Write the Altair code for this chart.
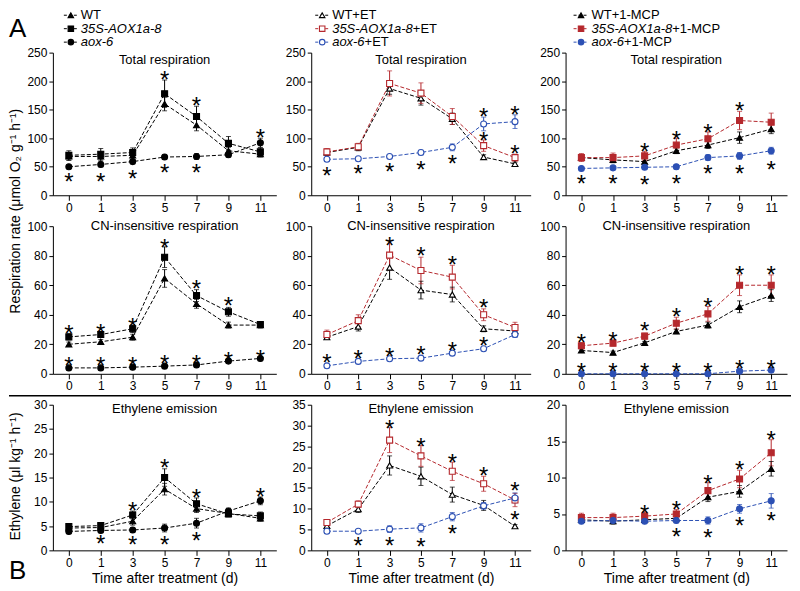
import altair as alt
import pandas as pd

FONT = "Liberation Sans, Arial, Helvetica, sans-serif"
BLACK = "#000000"
RED = "#b5282d"
BLUE = "#2c50b4"

DAYS = [0, 1, 3, 5, 7, 9, 11]

# ---------------- Total respiration (umol O2 g-1 h-1) ----------------
TOT_C_WT = [68, 68, 70, 160, 123, 78, 72]
TOT_C_WT_SE = [7, 8, 7, 12, 10, 6, 5]
TOT_C_OE = [70, 72, 75, 178, 138, 91, 76]
TOT_C_OE_SE = [8, 10, 8, 24, 18, 12, 7]
TOT_C_AOX = [50, 54, 59, 67, 68, 71, 92]
TOT_C_AOX_SE = [3, 4, 4, 4, 5, 4, 8]

TOT_ET_WT = [75, 84, 187, 170, 134, 67, 55]
TOT_ET_WT_SE = [5, 6, 10, 12, 10, 4, 3]
TOT_ET_OE = [76, 85, 196, 179, 138, 87, 66]
TOT_ET_OE_SE = [6, 6, 22, 18, 14, 10, 6]
TOT_ET_AOX = [63, 64, 68, 75, 84, 125, 129]
TOT_ET_AOX_SE = [3, 3, 3, 4, 6, 12, 12]

TOT_MCP_WT = [66, 62, 59, 78, 88, 101, 116]
TOT_MCP_WT_SE = [5, 5, 5, 5, 6, 10, 8]
TOT_MCP_OE = [66, 66, 69, 88, 99, 131, 128]
TOT_MCP_OE_SE = [7, 8, 8, 12, 12, 16, 16]
TOT_MCP_AOX = [47, 48, 49, 50, 66, 69, 78]
TOT_MCP_AOX_SE = [3, 3, 3, 4, 5, 6, 6]

# ---------------- CN-insensitive respiration ----------------
CN_C_WT = [20, 21.7, 24.8, 64.6, 47.4, 33, 33]
CN_C_WT_SE = [1.5, 1.5, 2, 6, 3, 2, 2]
CN_C_OE = [25, 26.6, 30.5, 79, 53, 42, 33.4]
CN_C_OE_SE = [2, 2, 2.5, 7, 4, 3, 2]
CN_C_AOX = [4, 4, 4.5, 5.2, 6, 8.6, 10.4]
CN_C_AOX_SE = [0.5, 0.5, 0.5, 0.5, 0.6, 0.8, 1]

CN_ET_WT = [24.8, 32, 72, 56.7, 53.7, 30.5, 29]
CN_ET_WT_SE = [1.5, 3, 8, 6, 5, 2, 2]
CN_ET_OE = [26.6, 36, 80.4, 70, 65.5, 40, 31.4]
CN_ET_OE_SE = [3, 4, 10, 9, 8, 4, 3.5]
CN_ET_AOX = [5.4, 8.4, 10.2, 10.6, 14, 17, 26.6]
CN_ET_AOX_SE = [0.5, 0.8, 0.8, 0.8, 1, 1, 2]

CN_MCP_WT = [15.8, 14.4, 21, 28.7, 33, 45.4, 53]
CN_MCP_WT_SE = [1, 1, 1, 1.5, 2, 4, 4]
CN_MCP_OE = [19, 20.8, 25.5, 34.3, 40.6, 60, 60]
CN_MCP_OE_SE = [2, 2, 2, 4, 5, 7, 7]
CN_MCP_AOX = [0, 0, 0, 0, 0, 1.8, 2.5]
CN_MCP_AOX_SE = [0.2, 0.2, 0.2, 0.2, 0.2, 0.4, 0.6]

# ---------------- Ethylene emission (ul kg-1 h-1) ----------------
ETH_C_WT = [4.6, 4.7, 6.0, 12.6, 8.6, 7.6, 6.6]
ETH_C_WT_SE = [0.5, 0.5, 0.8, 1.2, 0.8, 0.6, 0.6]
ETH_C_OE = [4.9, 5.1, 7.3, 15.0, 9.6, 7.5, 7.1]
ETH_C_OE_SE = [0.5, 0.5, 0.8, 1.8, 1.2, 0.6, 0.8]
ETH_C_AOX = [3.9, 4.1, 4.2, 4.6, 5.6, 8.1, 10.2]
ETH_C_AOX_SE = [0.4, 0.4, 0.5, 0.8, 1.0, 0.6, 0.8]

ETH_ET_WT = [5.9, 9.9, 20.4, 17.8, 13.4, 10.8, 5.8]
ETH_ET_WT_SE = [0.5, 0.8, 2.3, 2.2, 1.8, 1.2, 0.4]
ETH_ET_OE = [6.7, 11.1, 26.5, 22.7, 19.0, 16.0, 12.1]
ETH_ET_OE_SE = [0.6, 0.8, 3.0, 2.5, 2.2, 1.8, 1.6]
ETH_ET_AOX = [4.6, 4.6, 5.1, 5.4, 8.1, 10.7, 12.6]
ETH_ET_AOX_SE = [0.4, 0.4, 0.8, 1.0, 1.0, 0.8, 1.2]

ETH_MCP_WT = [4.2, 4.0, 4.2, 4.4, 7.3, 8.1, 11.2]
ETH_MCP_WT_SE = [0.4, 0.4, 0.4, 0.4, 0.6, 0.8, 1.0]
ETH_MCP_OE = [4.5, 4.5, 4.7, 5.0, 8.2, 9.8, 13.4]
ETH_MCP_OE_SE = [0.6, 0.6, 0.6, 0.6, 1.1, 1.2, 1.8]
ETH_MCP_AOX = [4.0, 4.1, 4.0, 4.1, 4.1, 5.7, 6.8]
ETH_MCP_AOX_SE = [0.3, 0.3, 0.3, 0.3, 0.5, 0.6, 1.0]

# ---------------- significance asterisks (day, value) ----------------
STAR_TOT_C_DAY = [0, 1, 3, 5, 5, 7, 7, 11]
STAR_TOT_C_Y = [33, 33, 39, 213, 49, 167, 49, 110]
STAR_TOT_ET_DAY = [0, 1, 3, 5, 7, 9, 9, 11, 11]
STAR_TOT_ET_Y = [45, 48, 52, 55, 65, 148, 105, 151, 82]
STAR_TOT_MCP_DAY = [0, 1, 3, 3, 5, 5, 7, 7, 9, 9, 11]
STAR_TOT_MCP_Y = [30, 30, 87, 28, 107, 30, 120, 48, 158, 48, 55]

STAR_CN_C_DAY = [0, 0, 1, 1, 3, 3, 5, 5, 7, 7, 9, 9, 11]
STAR_CN_C_Y = [31, 9, 32, 9, 35.7, 9, 89, 10.4, 61.6, 10.8, 50, 13, 14.2]
STAR_CN_ET_DAY = [0, 1, 3, 3, 5, 5, 7, 7, 9, 9]
STAR_CN_ET_Y = [11.5, 13.8, 90.3, 15.3, 84, 16.5, 78, 19.4, 48.5, 22.8]
STAR_CN_MCP_DAY = [0, 0, 1, 1, 3, 3, 5, 5, 7, 7, 9, 9, 11, 11]
STAR_CN_MCP_Y = [25, 5.2, 26.6, 5.2, 32.7, 5.2, 42.4, 5.2, 49, 5.2, 71, 7, 71, 7.4]

STAR_ETH_C_DAY = [1, 3, 3, 5, 5, 7, 7, 11]
STAR_ETH_C_Y = [2.6, 9.4, 2.4, 18.2, 2.4, 12, 3.2, 12.2]
STAR_ETH_ET_DAY = [1, 3, 3, 5, 5, 7, 7, 9, 11, 11]
STAR_ETH_ET_Y = [2.4, 30.6, 2.4, 26.2, 2.2, 22.5, 5.4, 19.2, 15.6, 8.8]
STAR_ETH_MCP_DAY = [3, 5, 5, 7, 7, 9, 9, 11, 11]
STAR_ETH_MCP_Y = [5.8, 6.3, 2.7, 10, 2.5, 11.8, 4.2, 16, 4.9]

GENO_NAMES = ["WT", "35S-AOX1a-8", "aox-6"]
SUFFIX = ["", "+ET", "+1-MCP"]
PANEL_TITLES = ["Total respiration", "CN-insensitive respiration", "Ethylene emission"]
Y_TITLE_RESP = "Respiration rate (\u03bcmol O\u2082 g\u207b\u00b9 h\u207b\u00b9)"
Y_TITLE_ETH = "Ethylene (\u03bcl kg\u207b\u00b9 h\u207b\u00b9)"
X_TITLE = "Time after treatment (d)"

# ---------------- layout / style ----------------
COL_W = [224, 220, 222]
ROW_H = [143, 148, 146]
TITLE_Y = [7, 0, 4]
SHAPES = ["triangle-up", "square", "circle"]
LEG_X = [(11, 25, 18, 28), (4, 18, 11, 21), (8, 23, 15.5, 26)]
LEG_Y = [-37.5, -24, -10.5]
ITALIC_W = [0, 80.9, 32.5]


def series_for(col, wt, wt_se, oe, oe_se, aox, aox_se):
    if col == 0:
        cols = [BLACK, BLACK, BLACK]
        filled = [True, True, True]
    elif col == 1:
        cols = [BLACK, RED, BLUE]
        filled = [False, False, False]
    else:
        cols = [BLACK, RED, BLUE]
        filled = [True, True, True]
    return [
        ("WT", wt, wt_se, cols[0], SHAPES[0], filled[0]),
        ("OE", oe, oe_se, cols[1], SHAPES[1], filled[1]),
        ("AOX", aox, aox_se, cols[2], SHAPES[2], filled[2]),
    ], cols, filled


def one_row(text):
    return pd.DataFrame({"t": [text]})


def make_panel(row, col, data, ymax, ystep, sdays, svals):
    width, height = COL_W[col], ROW_H[row]
    series, cols, filled = series_for(col, *data)
    recs = []
    for name, m, s, c, sh, f in series:
        for d, v, e in zip(DAYS, m, s):
            recs.append({"day": d, "series": name, "mean": v, "lo": max(v - e, 0),
                         "hi": v + e, "col": c, "shp": sh, "fil": c if f else "white"})
    df = pd.DataFrame(recs)

    xtitle = X_TITLE if row == 2 else None
    xaxis = alt.Axis(labelAngle=0, title=xtitle, tickSize=5, labelPadding=2,
                     titlePadding=3, titleFontSize=14)
    xenc = alt.X("day:O", scale=alt.Scale(type="point", padding=0.5), axis=xaxis)
    yscale = alt.Scale(domain=[0, ymax], nice=False, zero=True)
    yaxis = alt.Axis(values=list(range(0, ymax + 1, ystep)), title=None, tickSize=4,
                     labelPadding=2)

    def Y(field):
        return alt.Y(field, scale=yscale, axis=yaxis)

    base = alt.Chart(df)
    colr = alt.Color("col:N", scale=None)
    line = base.mark_line(strokeDash=[4, 2], strokeWidth=1).encode(
        x=xenc, y=Y("mean:Q"), color=colr, detail="series:N")
    rule = base.mark_rule(strokeWidth=1).encode(
        x=xenc, y=Y("lo:Q"), y2="hi:Q", color=colr)
    cap_hi = base.mark_tick(size=5, thickness=1).encode(
        x=xenc, y=Y("hi:Q"), color=colr)
    cap_lo = base.mark_tick(size=5, thickness=1).encode(
        x=xenc, y=Y("lo:Q"), color=colr)
    pts = base.mark_point(size=36, opacity=1, fillOpacity=1, strokeWidth=1.1).encode(
        x=xenc, y=Y("mean:Q"),
        shape=alt.Shape("shp:N", scale=None),
        stroke=alt.Stroke("col:N", scale=None),
        fill=alt.Fill("fil:N", scale=None))

    sdf = pd.DataFrame({"day": sdays, "y": svals})
    stars = alt.Chart(sdf).mark_text(text="*", fontSize=24, font=FONT, baseline="alphabetic",
                                     dy=14, color=BLACK).encode(
        x=xenc, y=Y("y:Q"))

    ttl = alt.Chart(one_row(PANEL_TITLES[row])).mark_text(
        fontSize=13, font=FONT, align="center", baseline="middle", color=BLACK).encode(
        x=alt.value(width / 2), y=alt.value(TITLE_Y[row]), text="t:N")

    layers = [line, rule, cap_hi, cap_lo, pts, stars, ttl]

    if row == 0:
        lx1, lx2, lm, tx = LEG_X[col]
        lrecs = []
        for i in range(3):
            lrecs.append({"lx1": lx1, "lx2": lx2, "lm": lm, "ly": LEG_Y[i],
                          "col": cols[i], "shp": SHAPES[i],
                          "fil": cols[i] if filled[i] else "white"})
        ldf = pd.DataFrame(lrecs)
        lchart = alt.Chart(ldf)
        lrule = lchart.mark_rule(strokeDash=[3, 2], strokeWidth=1).encode(
            x=alt.X("lx1:Q", scale=None), x2="lx2:Q", y=alt.Y("ly:Q", scale=None),
            color=alt.Color("col:N", scale=None))
        lpts = lchart.mark_point(size=30, opacity=1, fillOpacity=1, strokeWidth=1.1).encode(
            x=alt.X("lm:Q", scale=None), y=alt.Y("ly:Q", scale=None),
            shape=alt.Shape("shp:N", scale=None),
            stroke=alt.Stroke("col:N", scale=None),
            fill=alt.Fill("fil:N", scale=None))
        normal = pd.DataFrame({
            "tx": [tx, tx + ITALIC_W[1], tx + ITALIC_W[2]],
            "ly": LEG_Y,
            "t": [GENO_NAMES[0] + SUFFIX[col], SUFFIX[col], SUFFIX[col]]})
        italic = pd.DataFrame({"tx": [tx, tx], "ly": LEG_Y[1:], "t": GENO_NAMES[1:]})
        ltxt = alt.Chart(normal).mark_text(fontSize=13, font=FONT, align="left",
                                           baseline="middle", color=BLACK).encode(
            x=alt.X("tx:Q", scale=None), y=alt.Y("ly:Q", scale=None), text="t:N")
        litx = alt.Chart(italic).mark_text(fontSize=13, font=FONT, fontStyle="italic",
                                           align="left", baseline="middle", color=BLACK).encode(
            x=alt.X("tx:Q", scale=None), y=alt.Y("ly:Q", scale=None), text="t:N")
        layers += [lrule, lpts, ltxt, litx]

    if col == 0 and row == 0:
        layers.append(alt.Chart(one_row("A")).mark_text(
            fontSize=26, font=FONT, align="left", baseline="middle", color=BLACK).encode(
            x=alt.value(-44), y=alt.value(-24), text="t:N"))
        layers.append(alt.Chart(one_row(Y_TITLE_RESP)).mark_text(
            fontSize=14, font=FONT, align="center", baseline="middle", angle=270,
            color=BLACK).encode(x=alt.value(-37), y=alt.value(159), text="t:N"))
    if col == 0 and row == 2:
        layers.append(alt.Chart(one_row("sep")).mark_rule(strokeWidth=1.5, color=BLACK).encode(
            x=alt.value(-44), x2=alt.value(740), y=alt.value(-9)))
        layers.append(alt.Chart(one_row("B")).mark_text(
            fontSize=26, font=FONT, align="left", baseline="middle", color=BLACK).encode(
            x=alt.value(-44), y=alt.value(167), text="t:N"))
        layers.append(alt.Chart(one_row(Y_TITLE_ETH)).mark_text(
            fontSize=14, font=FONT, align="center", baseline="middle", angle=270,
            color=BLACK).encode(x=alt.value(-37), y=alt.value(72), text="t:N"))

    return alt.layer(*layers).properties(width=width, height=height)


panels = [
    make_panel(0, 0, (TOT_C_WT, TOT_C_WT_SE, TOT_C_OE, TOT_C_OE_SE, TOT_C_AOX, TOT_C_AOX_SE),
               250, 50, STAR_TOT_C_DAY, STAR_TOT_C_Y),
    make_panel(0, 1, (TOT_ET_WT, TOT_ET_WT_SE, TOT_ET_OE, TOT_ET_OE_SE, TOT_ET_AOX, TOT_ET_AOX_SE),
               250, 50, STAR_TOT_ET_DAY, STAR_TOT_ET_Y),
    make_panel(0, 2, (TOT_MCP_WT, TOT_MCP_WT_SE, TOT_MCP_OE, TOT_MCP_OE_SE, TOT_MCP_AOX, TOT_MCP_AOX_SE),
               250, 50, STAR_TOT_MCP_DAY, STAR_TOT_MCP_Y),
    make_panel(1, 0, (CN_C_WT, CN_C_WT_SE, CN_C_OE, CN_C_OE_SE, CN_C_AOX, CN_C_AOX_SE),
               100, 20, STAR_CN_C_DAY, STAR_CN_C_Y),
    make_panel(1, 1, (CN_ET_WT, CN_ET_WT_SE, CN_ET_OE, CN_ET_OE_SE, CN_ET_AOX, CN_ET_AOX_SE),
               100, 20, STAR_CN_ET_DAY, STAR_CN_ET_Y),
    make_panel(1, 2, (CN_MCP_WT, CN_MCP_WT_SE, CN_MCP_OE, CN_MCP_OE_SE, CN_MCP_AOX, CN_MCP_AOX_SE),
               100, 20, STAR_CN_MCP_DAY, STAR_CN_MCP_Y),
    make_panel(2, 0, (ETH_C_WT, ETH_C_WT_SE, ETH_C_OE, ETH_C_OE_SE, ETH_C_AOX, ETH_C_AOX_SE),
               30, 5, STAR_ETH_C_DAY, STAR_ETH_C_Y),
    make_panel(2, 1, (ETH_ET_WT, ETH_ET_WT_SE, ETH_ET_OE, ETH_ET_OE_SE, ETH_ET_AOX, ETH_ET_AOX_SE),
               35, 5, STAR_ETH_ET_DAY, STAR_ETH_ET_Y),
    make_panel(2, 2, (ETH_MCP_WT, ETH_MCP_WT_SE, ETH_MCP_OE, ETH_MCP_OE_SE, ETH_MCP_AOX, ETH_MCP_AOX_SE),
               20, 5, STAR_ETH_MCP_DAY, STAR_ETH_MCP_Y),
]

chart = alt.concat(*panels, columns=3, spacing={"row": 31, "column": 35},
                   bounds="flush", align="each").properties(
    padding=0, background="white"
).configure_view(stroke=None).configure_axis(
    grid=False, domainColor=BLACK, tickColor=BLACK, labelColor=BLACK, titleColor=BLACK,
    labelFont=FONT, titleFont=FONT, labelFontSize=12, domainWidth=1, tickWidth=1,
    titleFontWeight="normal"
)

chart.save("out.html", embed_options={"renderer": "svg", "actions": False})
